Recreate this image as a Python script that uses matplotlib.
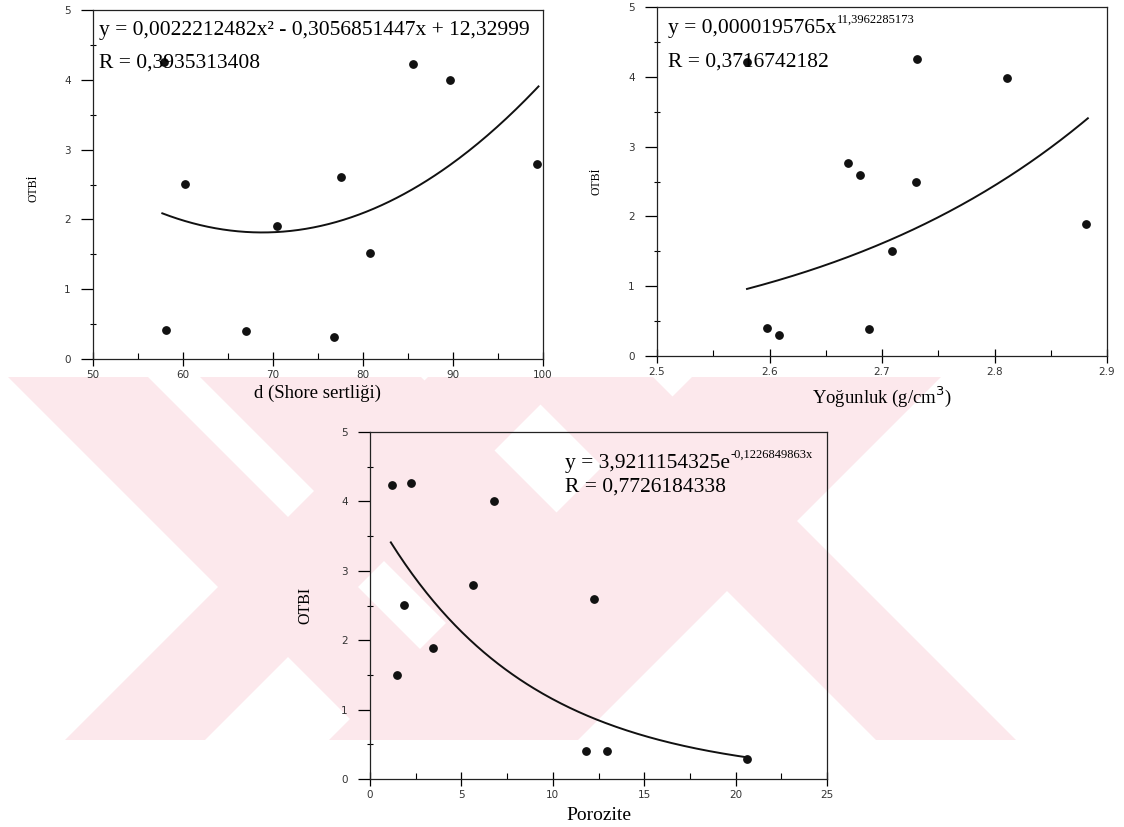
import numpy as np
import matplotlib.pyplot as plt
from matplotlib.patches import Polygon
from matplotlib.ticker import MultipleLocator

plt.rcParams['font.family'] = ['Liberation Serif', 'DejaVu Serif']

# OTBI against Shore hardness
shore = [57.9, 58.1, 60.2, 67.0, 70.4, 76.8, 77.5, 80.8, 85.6, 89.7, 99.3]
otbi_shore = [4.25, 0.41, 2.51, 0.40, 1.90, 0.31, 2.61, 1.52, 4.23, 4.00, 2.80]

# OTBI against density
density = [2.580, 2.731, 2.811, 2.670, 2.680, 2.730, 2.881, 2.709, 2.598, 2.608, 2.688]
otbi_density = [4.21, 4.25, 3.98, 2.77, 2.59, 2.50, 1.89, 1.50, 0.40, 0.30, 0.39]

# OTBI against porosity
porosity = [1.19, 2.24, 6.76, 5.61, 12.27, 1.84, 3.45, 1.49, 11.79, 12.96, 20.6]
otbi_porosity = [4.24, 4.26, 4.00, 2.80, 2.60, 2.51, 1.89, 1.50, 0.40, 0.40, 0.29]

# fit coefficients as printed on the chart
poly_coef = [0.0022212482, -0.3056851447, 12.32999]
pow_a, pow_b = 0.0000195765, 11.3962285173
exp_a, exp_b = 3.9211154325, -0.1226849863

W, H = 1124, 827
fig = plt.figure(figsize=(W / 100, H / 100), dpi=100)

# background watermark (pink diagonal bands), drawn in pixel space
bg = fig.add_axes([0, 0, 1, 1], zorder=0)
bg.set_xlim(0, W)
bg.set_ylim(H, 0)
bg.axis('off')
pink = '#fce8ec'
y0, y1 = 377, 740
# "\" bands: x - y in [a, b], optionally stopping at x + y = stop
back_bands = [(-369, -229, None), (-177, 44, 1110), (136, 276, None)]
# "/" bands: x + y in [a, b]
fwd_bands = [(805, 945), (1069, 1318)]
for a, b, stop in back_bands:
    if stop is None:
        pts = [(a + y0, y0), (b + y0, y0), (b + y1, y1), (a + y1, y1)]
    else:
        pts = [(a + y0, y0), (b + y0, y0), ((b + stop) / 2, (stop - b) / 2),
               ((a + stop) / 2, (stop - a) / 2)]
    bg.add_patch(Polygon(pts, closed=True, facecolor=pink, edgecolor='none'))
for a, b in fwd_bands:
    bg.add_patch(Polygon([(a - y0, y0), (b - y0, y0), (b - y1, y1), (a - y1, y1)],
                         closed=True, facecolor=pink, edgecolor='none'))


def px_axes(left, top, right, bottom):
    return fig.add_axes([left / W, 1 - bottom / H, (right - left) / W, (bottom - top) / H],
                        zorder=1, facecolor='none')


def style(ax, xlim, xmajor, xminor):
    ax.set_xlim(*xlim)
    ax.set_ylim(0, 5)
    ax.xaxis.set_major_locator(MultipleLocator(xmajor))
    ax.xaxis.set_minor_locator(MultipleLocator(xminor))
    ax.yaxis.set_major_locator(MultipleLocator(1))
    ax.yaxis.set_minor_locator(MultipleLocator(0.5))
    for s in ax.spines.values():
        s.set_linewidth(0.9)
        s.set_color('#222222')
    ax.tick_params(axis='y', which='major', direction='out', length=9, width=0.9,
                   pad=7, labelsize=7.5, labelcolor='#333333', labelfontfamily='DejaVu Sans')
    ax.tick_params(axis='y', which='minor', direction='inout', length=5, width=0.8)
    ax.tick_params(axis='x', which='major', direction='inout', length=10, width=0.9,
                   pad=3, labelsize=7.5, labelcolor='#333333', labelfontfamily='DejaVu Sans')
    ax.tick_params(axis='x', which='minor', direction='in', length=4, width=0.8)


def equation(ax, x, y, base, sup, sup_rise, r_text, r_y):
    t = ax.text(x, y, base, transform=ax.transAxes, fontsize=15.5, va='baseline', ha='left')
    if sup:
        ax.annotate(sup, xy=(1, 0), xycoords=t, xytext=(0.5, sup_rise),
                    textcoords='offset points', fontsize=9, va='bottom', ha='left')
    ax.text(x, r_y, r_text, transform=ax.transAxes, fontsize=15.5, va='baseline', ha='left')


# --- plot 1: Shore hardness
ax1 = px_axes(93, 10, 543, 359)
style(ax1, (50, 100), 10, 5)
ax1.scatter(shore, otbi_shore, s=28, color='#111111', zorder=3)
xs = np.linspace(min(shore) - 0.2, max(shore) + 0.2, 200)
ax1.plot(xs, np.polyval(poly_coef, xs), color='#111111', lw=1.4)
equation(ax1, 0.013, 0.928, 'y = 0,0022212482x² - 0,3056851447x + 12,32999', None, 0,
         'R = 0,3935313408', 0.834)
ax1.set_xlabel('d (Shore sertliği)', fontsize=13.5)
ax1.xaxis.set_label_coords(0.5, -0.075)
ax1.set_ylabel('OTBİ', fontsize=8.5)
ax1.yaxis.set_label_coords(-0.118, 0.49)

# --- plot 2: density
ax2 = px_axes(657, 7, 1107, 356)
style(ax2, (2.5, 2.9), 0.1, 0.05)
ax2.scatter(density, otbi_density, s=28, color='#111111', zorder=3)
xs = np.linspace(min(density), max(density) + 0.002, 200)
ax2.plot(xs, pow_a * xs ** pow_b, color='#111111', lw=1.4)
equation(ax2, 0.024, 0.926, 'y = 0,0000195765x', '11,3962285173', 9,
         'R = 0,3716742182', 0.828)
ax2.set_xlabel('Yoğunluk (g/cm$^3$)', fontsize=13.5, math_fontfamily='dejavusans')
ax2.xaxis.set_label_coords(0.5, -0.08)
ax2.set_ylabel('OTBİ', fontsize=8.5)
ax2.yaxis.set_label_coords(-0.122, 0.5)

# --- plot 3: porosity
ax3 = px_axes(370, 432, 827, 779)
style(ax3, (0, 25), 5, 2.5)
ax3.scatter(porosity, otbi_porosity, s=28, color='#111111', zorder=3)
xs = np.linspace(min(porosity) - 0.05, max(porosity), 200)
ax3.plot(xs, exp_a * np.exp(exp_b * xs), color='#111111', lw=1.4)
equation(ax3, 0.427, 0.897, 'y = 3,9211154325e', '-0,1226849863x', 9,
         'R = 0,7726184338', 0.828)
ax3.set_xlabel('Porozite', fontsize=14)
ax3.xaxis.set_label_coords(0.5, -0.08)
ax3.set_ylabel('OTBI', fontsize=11.5)
ax3.yaxis.set_label_coords(-0.125, 0.5)

fig.savefig('out.png', dpi=100)
